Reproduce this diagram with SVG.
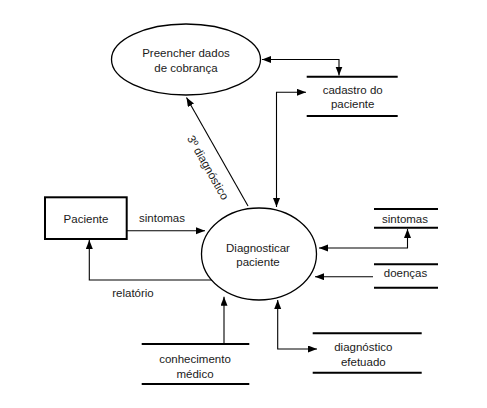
<svg xmlns="http://www.w3.org/2000/svg" width="487" height="408" viewBox="0 0 487 408">
<defs>
<marker id="ah" markerUnits="userSpaceOnUse" markerWidth="10" markerHeight="8" refX="9" refY="3.5" orient="auto-start-reverse">
<path d="M0,0 L9,3.5 L0,7 z" fill="#000"/>
</marker>
<style>
text{font-family:"Liberation Sans",Arial,sans-serif;font-size:11.5px;fill:#1a1a1a;text-anchor:middle}
.proc{fill:#fff;stroke:#000;stroke-width:1.3}
.store{stroke:#000;stroke-width:2;fill:none}
.flow{stroke:#000;stroke-width:1.1;fill:none}
</style>
</defs>
<rect width="487" height="408" fill="#fff"/>
<g id="connectors">
<path class="flow" d="M262,59.5 H339 V75.5" marker-start="url(#ah)" marker-end="url(#ah)"/>
<path class="flow" d="M306,92.3 H276.5 V207" marker-start="url(#ah)" marker-end="url(#ah)"/>
<path class="flow" d="M248,206 L186.5,97.5" marker-end="url(#ah)"/>
<text transform="translate(208,167.5) rotate(60.4)" y="4">3º diagnóstico</text>
<path class="flow" d="M127,230.7 H205" marker-end="url(#ah)"/>
<text x="162" y="222.3">sintomas</text>
<path class="flow" d="M213,280 H89.3 V240" marker-end="url(#ah)"/>
<text x="133" y="296.7">relatório</text>
<path class="flow" d="M319,248 H407.5 V229" marker-start="url(#ah)" marker-end="url(#ah)"/>
<path class="flow" d="M373,276.7 H315" marker-end="url(#ah)"/>
<path class="flow" d="M224,344 V296.7" marker-end="url(#ah)"/>
<path class="flow" d="M277.7,300 V349 H317" marker-start="url(#ah)" marker-end="url(#ah)"/>
</g>
<g id="preencher">
<ellipse class="proc" cx="186" cy="59.5" rx="74.5" ry="35.5"/>
<text x="186" y="56.5">Preencher dados</text>
<text x="186" y="71.5">de cobrança</text>
</g>
<g id="diagnosticar">
<ellipse class="proc" cx="259" cy="254" rx="57.5" ry="46"/>
<text x="258" y="251.5">Diagnosticar</text>
<text x="258" y="265.7">paciente</text>
</g>
<g id="paciente">
<rect x="45" y="197.3" width="81.7" height="41.7" fill="#fff" stroke="#000" stroke-width="2"/>
<text x="86" y="223.3">Paciente</text>
</g>
<g id="cadastro">
<path class="store" d="M306.7,76.7 H397.7 M306.7,116 H397.7"/>
<text x="352.7" y="94">cadastro do</text>
<text x="352.7" y="108.3">paciente</text>
</g>
<g id="sintomas-store">
<path class="store" d="M374,209 H438 M374,227.7 H438"/>
<text x="405" y="223">sintomas</text>
</g>
<g id="doencas">
<path class="store" d="M374,264.3 H438 M374,287.7 H438"/>
<text x="405.5" y="276.7">doenças</text>
</g>
<g id="conhecimento">
<path class="store" d="M141.7,344 H249.3 M141.7,384 H249.3"/>
<text x="195" y="362.7">conhecimento</text>
<text x="195" y="377.7">médico</text>
</g>
<g id="diagnostico-efetuado">
<path class="store" d="M312.7,333.3 H421.7 M312.7,372.7 H421.7"/>
<text x="363.3" y="350.7">diagnóstico</text>
<text x="363.3" y="366">efetuado</text>
</g>
</svg>
